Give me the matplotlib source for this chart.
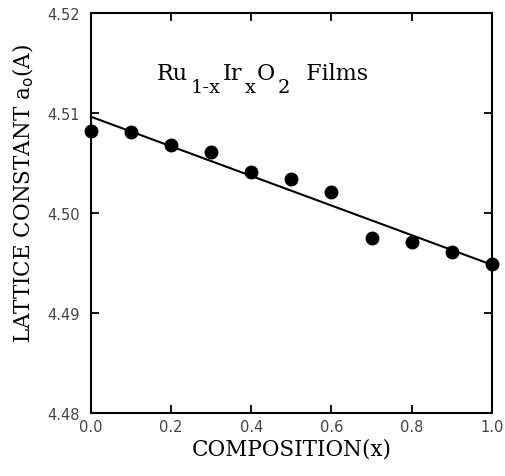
import numpy as np
import matplotlib
matplotlib.use("Agg")
import matplotlib.pyplot as plt

# composition x and measured lattice constant a_o (A)
composition = [0.0, 0.1, 0.2, 0.3, 0.4, 0.5, 0.6, 0.7, 0.8, 0.9, 1.0]
lattice_a0 = [4.5082, 4.5081, 4.5068, 4.5061, 4.5041, 4.5034,
              4.5021, 4.4975, 4.4971, 4.4961, 4.4949]
x_ticks = [0.0, 0.2, 0.4, 0.6, 0.8, 1.0]
y_ticks = [4.48, 4.49, 4.50, 4.51, 4.52]

serif = 'DejaVu Serif'

fig = plt.figure(figsize=(5.05, 4.77), dpi=100)
ax = fig.add_axes([0.180, 0.132, 0.794, 0.839])

# linear fit through the film data
slope, intercept = np.polyfit(composition, lattice_a0, 1)
xfit = np.array([0.0, 1.0])
ax.plot(xfit, slope * xfit + intercept, color='black', lw=1.5, clip_on=False)

ax.plot(composition, lattice_a0, 'o', color='black', ms=9, clip_on=False, zorder=3)

ax.set_xlim(0, 1)
ax.set_ylim(4.48, 4.52)
ax.set_xticks(x_ticks)
ax.set_yticks(y_ticks)
ax.set_xticklabels([f"{t:.1f}" for t in x_ticks])
ax.set_yticklabels([f"{t:.2f}" for t in y_ticks])

for s in ax.spines.values():
    s.set_linewidth(1.5)
ax.tick_params(direction='in', length=6, width=1.3, top=True, right=True,
               labelsize=10.5, labelcolor='#444444')
ax.tick_params(axis='y', pad=8)
ax.tick_params(axis='x', pad=4)

ax.set_xlabel('COMPOSITION(x)', family=serif, fontsize=15.5, labelpad=3)
ax.set_ylabel(r'LATTICE CONSTANT a$_\mathrm{o}$(A)', family=serif, fontsize=15.5)
ax.yaxis.set_label_coords(-0.138, 0.55)

# chemical formula built piece by piece so the subscripts sit low and large
pieces = [('Ru', False), ('1-x', True), ('Ir', False), ('x', True),
          ('O', False), ('2', True), ('  Films', False)]
base = ax.text(0.165, 4.5134, pieces[0][0], family=serif, fontsize=16,
               va='baseline', ha='left')
prev = base
for txt, is_sub in pieces[1:]:
    if is_sub:
        prev = ax.annotate(txt, xy=(1, 0), xycoords=(prev, base), xytext=(2, -6),
                           textcoords='offset points', family=serif, fontsize=14,
                           va='baseline', ha='left')
    else:
        prev = ax.annotate(txt, xy=(1, 0), xycoords=(prev, base), xytext=(1, 0),
                           textcoords='offset points', family=serif, fontsize=16,
                           va='bottom', ha='left')

fig.savefig('out.png', dpi=100)
